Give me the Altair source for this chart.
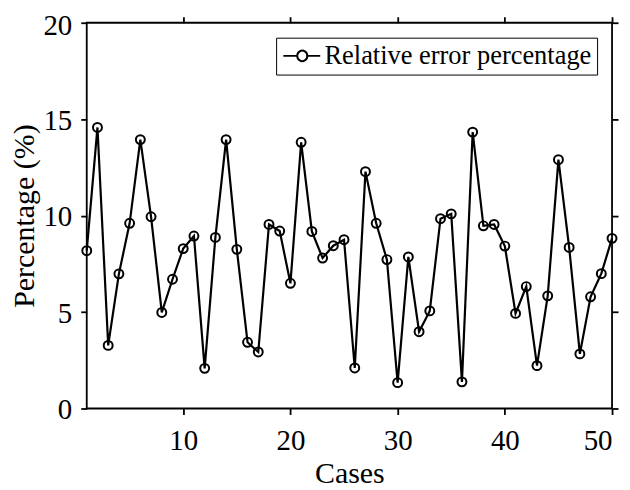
import altair as alt
import pandas as pd

cases = list(range(1, 51))
values = [8.18, 14.57, 3.27, 6.98, 9.60, 13.94, 9.94, 4.98, 6.70, 8.29,
          8.94, 2.08, 8.87, 13.94, 8.25, 3.43, 2.93, 9.54, 9.20, 6.49,
          13.80, 9.18, 7.80, 8.44, 8.75, 2.10, 12.28, 9.60, 7.72, 1.34,
          7.86, 3.98, 5.06, 9.84, 10.09, 1.38, 14.33, 9.47, 9.54, 8.42,
          4.93, 6.32, 2.22, 5.84, 12.90, 8.35, 2.83, 5.79, 6.99, 8.82]
series_name = "Relative error percentage"
x_ticks = [10, 20, 30, 40, 50]
y_ticks = [0, 5, 10, 15, 20]

df = pd.DataFrame({"Cases": cases, "Value": values, "Series": [series_name] * len(cases)})

FONT = "Liberation Serif"

xscale = alt.Scale(domain=[1, 50], nice=False, zero=False)
yscale = alt.Scale(domain=[0, 20], nice=False)

legend_path = ("M-0.917,0 L0.25,0 M1.083,0 L2.167,0 "
               "M0.25,0 A0.417,0.417 0 1,0 1.083,0 A0.417,0.417 0 1,0 0.25,0")

line = alt.Chart(df).mark_line(strokeWidth=2.2).encode(
    x=alt.X("Cases:Q", scale=xscale,
            axis=alt.Axis(orient="bottom", values=x_ticks, title="Cases",
                          titleBaseline="alphabetic", titleY=74, titleX=263.5,
                          titleAnchor="middle", titleFontSize=30, labelPadding=12)),
    y=alt.Y("Value:Q", scale=yscale,
            axis=alt.Axis(orient="left", values=y_ticks, title="Percentage (%)",
                          titleBaseline="alphabetic", titleAngle=270, titleX=-53,
                          titleY=193.5, titleAlign="center", titleFontSize=30,
                          labelPadding=9,
                          labelOffset={"condition": {"test": "datum.value === 20", "value": 3},
                                       "value": 1})),
    color=alt.Color("Series:N",
                    scale=alt.Scale(domain=[series_name], range=["black"]),
                    legend=alt.Legend(orient="none", legendX=190, legendY=15,
                                      title=None, padding=5, strokeColor="black",
                                      symbolType=legend_path, symbolSize=576,
                                      symbolStrokeWidth=2, symbolStrokeColor="black",
                                      symbolFillColor="transparent",
                                      labelFont=FONT, labelFontSize=26.5,
                                      labelOffset=17, labelLimit=500,
                                      labelExpr="datum.label + '\u00a0'")),
)

points = alt.Chart(df).mark_point(shape="circle", filled=False, size=80,
                                  strokeWidth=2, color="black", opacity=1).encode(
    x=alt.X("Cases:Q", scale=xscale,
            axis=alt.Axis(orient="top", values=x_ticks, labels=False, title=None)),
    y=alt.Y("Value:Q", scale=yscale,
            axis=alt.Axis(orient="right", values=y_ticks, labels=False, title=None)),
)

chart = alt.layer(line, points).resolve_axis(x="independent", y="independent").properties(
    width=527, height=387,
    autosize=alt.AutoSizeParams(type="none"),
    padding={"left": 79, "top": 14, "right": 10, "bottom": 80},
    background="white",
).configure_view(
    stroke="black", strokeWidth=1.8
).configure_axis(
    grid=False, domain=False, ticks=True, tickSize=6, tickWidth=1.8, tickColor="black",
    labelFont=FONT, labelFontSize=29, labelColor="black",
    titleFont=FONT, titleFontSize=31, titleFontWeight="normal", titleColor="black",
)

chart.save("out.html", embed_options={"renderer": "svg", "actions": False})
